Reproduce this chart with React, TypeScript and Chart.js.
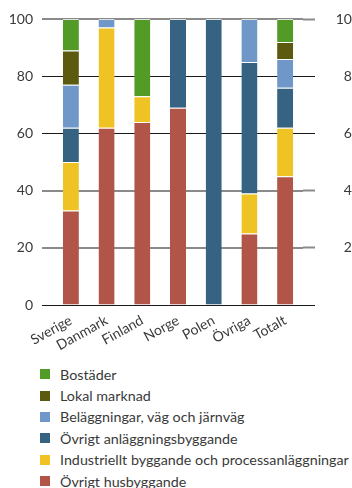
import React, { useEffect, useRef } from "react";
import { Chart, registerables } from "chart.js";

Chart.register(...registerables);

const categories = ["Sverige", "Danmark", "Finland", "Norge", "Polen", "Övriga", "Totalt"];
const ovrigtHusbyggande = [33, 62, 64, 69, 0, 25, 45];
const industriellt = [17, 35, 9, 0, 0, 14, 17];
const ovrigtAnlaggning = [12, 0, 0, 31, 100, 46, 14];
const belaggningar = [15, 3, 0, 0, 0, 15, 10];
const lokalMarknad = [12, 0, 0, 0, 0, 0, 6];
const bostader = [11, 0, 27, 0, 0, 0, 8];
const yTicks = [0, 20, 40, 60, 80, 100];

const seriesNames = [
  "Övrigt husbyggande",
  "Industriellt byggande och processanläggningar",
  "Övrigt anläggningsbyggande",
  "Beläggningar, väg och järnväg",
  "Lokal marknad",
  "Bostäder",
];
const seriesValues = [ovrigtHusbyggande, industriellt, ovrigtAnlaggning, belaggningar, lokalMarknad, bostader];
const seriesColors = ["#b05548", "#f0c325", "#376382", "#6f98c8", "#5c5a0e", "#529b26"];

const FONT = "Lato, 'Open Sans', sans-serif";
const TEXT = "#3a3a3a";

const gridColor = (ctx: any) => {
  const v = ctx.tick ? ctx.tick.value : 0;
  return v === 0 || v === 60 || v === 80 ? "#1a1a1a" : "#8a8a8a";
};
const gridWidth = (ctx: any) => {
  const v = ctx.tick ? ctx.tick.value : 0;
  return v === 0 || v === 60 || v === 80 ? 1 : 2;
};

export default function App() {
  const ref = useRef<HTMLCanvasElement | null>(null);

  useEffect(() => {
    if (!ref.current) return;
    const chart = new Chart(ref.current, {
      type: "bar",
      data: {
        labels: categories,
        datasets: seriesNames.map((name, i) => ({
          label: name,
          data: seriesValues[i],
          backgroundColor: seriesColors[i],
          borderColor: "rgba(255,255,255,0.75)",
          borderWidth: { top: 1, bottom: 0, left: 0, right: 0 },
          borderSkipped: false,
          categoryPercentage: 1,
          barPercentage: 0.45,
          yAxisID: "y",
        })),
      },
      options: {
        animation: false,
        responsive: false,
        maintainAspectRatio: false,
        layout: { padding: { top: 19, left: 0, right: 0, bottom: 0 } },
        plugins: { legend: { display: false }, tooltip: { enabled: false } },
        scales: {
          x: {
            stacked: true,
            grid: { display: false, drawTicks: false },
            border: { display: false },
            ticks: {
              color: TEXT,
              font: { family: FONT, size: 14 },
              minRotation: 29,
              maxRotation: 29,
              padding: 7,
              autoSkip: false,
            },
            afterFit: (s: any) => {
              s.height = 45;
            },
          },
          y: {
            stacked: true,
            min: 0,
            max: 100,
            position: "left",
            afterBuildTicks: (s: any) => {
              s.ticks = yTicks.map((v) => ({ value: v }));
            },
            grid: { color: gridColor, lineWidth: gridWidth, drawTicks: true, tickLength: 11, tickColor: gridColor, tickWidth: gridWidth },
            border: { display: false },
            ticks: { color: TEXT, font: { family: FONT, size: 14 }, padding: 9 },
            afterFit: (s: any) => {
              s.width = 53;
              s.paddingTop = 8;
              s.paddingBottom = 8;
            },
          },
          y2: {
            min: 0,
            max: 100,
            position: "right",
            afterBuildTicks: (s: any) => {
              s.ticks = yTicks.map((v) => ({ value: v }));
            },
            grid: { drawOnChartArea: false, drawTicks: true, tickLength: 12, tickColor: gridColor, tickWidth: gridWidth, color: gridColor },
            border: { display: false },
            ticks: {
              color: TEXT,
              font: { family: FONT, size: 14 },
              padding: 20,
              crossAlign: "far",
              callback: (v: any) => (v === 0 ? "" : String(v)),
            },
            afterFit: (s: any) => {
              s.width = 57;
              s.paddingTop = 8;
              s.paddingBottom = 8;
            },
          },
        },
      },
    });
    return () => chart.destroy();
  }, []);

  const legendOrder = [5, 4, 3, 2, 1, 0];

  return (
    <div style={{ position: "fixed", left: 0, top: 0, width: 352, height: 488, overflow: "hidden", background: "#fff" }}>
      <canvas ref={ref} width={360} height={350} style={{ display: "block", width: 360, height: 350 }} />
      <div style={{ position: "absolute", left: 40, top: 363.5, fontFamily: FONT, fontSize: 14.3, color: TEXT }}>
        {legendOrder.map((i) => (
          <div key={i} style={{ display: "flex", alignItems: "center", height: 21.4, whiteSpace: "nowrap" }}>
            <span style={{ display: "inline-block", width: 10, height: 10, background: seriesColors[i], marginRight: 10 }} />
            <span>{seriesNames[i]}</span>
          </div>
        ))}
      </div>
    </div>
  );
}
